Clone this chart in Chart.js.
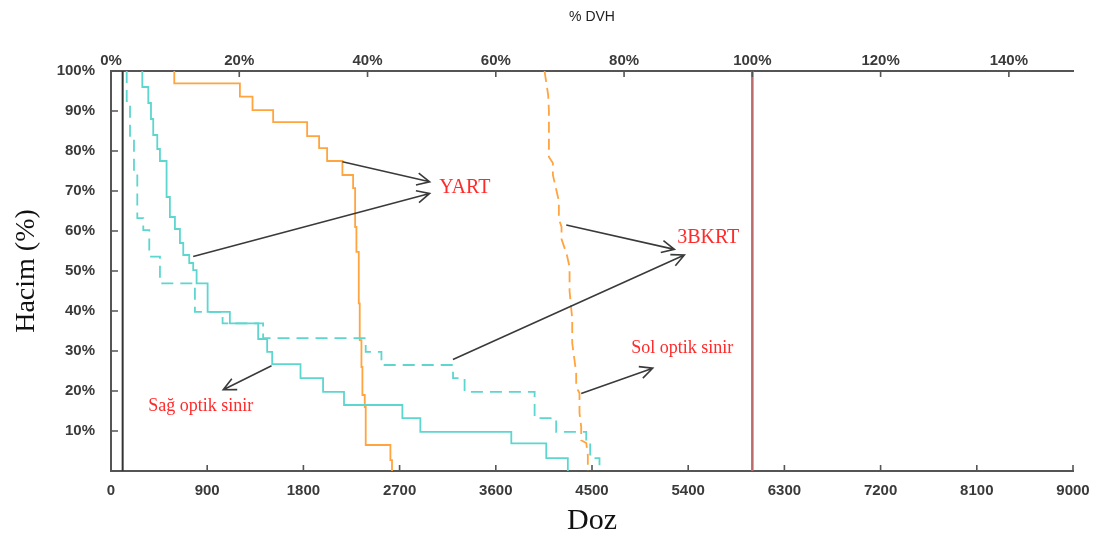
<!DOCTYPE html>
<html>
<head>
<meta charset="utf-8">
<script src="https://cdn.jsdelivr.net/npm/chart.js@4.4.1/dist/chart.umd.min.js"></script>
<style>
  body { margin: 0; background: #fff; }
  canvas { display: block; }
</style>
</head>
<body>
<canvas id="myChart" width="1103" height="545"></canvas>
<script>
// DVH values (dose in cGy / volume in %)
// steps: horizontal to the dose, then down to the volume
const solYartDoz   = [592, 592, 1206, 1324, 1517, 1835, 1947, 2022, 2165, 2265, 2284, 2296, 2318, 2327, 2343, 2352, 2374, 2383, 2614, 2629];
const solYartHacim = [100, 96.9, 93.6, 90.2, 87.2, 83.7, 80.7, 77.5, 74.0, 70.7, 61.0, 54.8, 41.9, 32.7, 26.0, 19.0, 16.0, 6.5, 2.7, 0];

const sagYartDoz   = [293, 293, 349, 374, 395, 433, 458, 520, 551, 598, 645, 676, 732, 769, 801, 904, 1112, 1377, 1461, 1508, 1773, 1984, 2180, 2726, 2894, 3745, 4072, 4274];
const sagYartHacim = [100, 96, 92, 88, 84, 80.5, 77.5, 68.5, 63.5, 60.5, 57, 54, 52, 50.2, 46.9, 39.8, 36.9, 33.0, 29.8, 26.7, 23.2, 19.8, 16.5, 13.2, 9.8, 6.9, 3.2, 0];

const sag3bkrtDoz   = [147, 147, 178, 215, 246, 302, 358, 458, 785, 1044, 1423, 2383, 2530, 3200, 3308, 3963, 4165, 4446, 4483, 4570];
const sag3bkrtHacim = [100, 92.5, 83.5, 74.5, 63.2, 60.2, 53.6, 46.9, 39.8, 36.9, 33.2, 29.8, 26.5, 23.2, 19.8, 13.2, 9.8, 6.9, 3.2, 0];

const sol3bkrtDoz   = [4056, 4090, 4097, 4097, 4134, 4134, 4190, 4190, 4215, 4215, 4265, 4290, 4290, 4315, 4315, 4352, 4352, 4383, 4383, 4399, 4399, 4446, 4461, 4461];
const sol3bkrtHacim = [100, 94, 90, 78.5, 77, 74, 67.5, 63, 61, 58, 54, 51, 45, 38, 32, 24.5, 21, 19.5, 14.5, 11, 7.7, 7, 4, 0];

const blackLineDoz = [109, 109];
const refLineDoz = [6000, 6000];   // 100% prescription
const fullHacim = [0, 100];

// axis ticks
const dozTicks = [0, 900, 1800, 2700, 3600, 4500, 5400, 6300, 7200, 8100, 9000];
const dvhTicks = [0, 20, 40, 60, 80, 100, 120, 140];
const hacimTicks = [10, 20, 30, 40, 50, 60, 70, 80, 90, 100];

// annotations
const noteTexts = ['YART', '3BKRT', 'Sol optik sinir', 'Sağ optik sinir'];
const noteDoz   = [3072, 5297, 4867, 348];
const noteHacim = [70.8, 58.2, 30.7, 16.1];
const arrowFromDoz   = [2165, 769, 4259, 3199, 4399, 1502];
const arrowFromHacim = [77.3, 53.6, 61.5, 27.9, 19.4, 26.3];
const arrowToDoz     = [2981, 2981, 5271, 5364, 5068, 1050];
const arrowToHacim   = [72.3, 69.4, 55.4, 54.0, 25.7, 20.3];

const toPts = (xs, ys) => xs.map((x, i) => ({x: x, y: ys[i]}));

const ORANGE = '#ffa43f';
const CYAN = '#5dd6cf';

const inwardTicks = {
  id: 'inwardTicks',
  afterDatasetsDraw(chart) {
    const ctx = chart.ctx, a = chart.chartArea;
    const sx = chart.scales.x, st = chart.scales.x2, sy = chart.scales.y;
    ctx.save();
    ctx.strokeStyle = '#555';
    ctx.lineWidth = 1.6;
    ctx.beginPath();
    dozTicks.forEach(v => { if (v === 0) return; const p = sx.getPixelForValue(v); ctx.moveTo(p, a.bottom); ctx.lineTo(p, a.bottom - 6); });
    dvhTicks.forEach(v => { if (v === 0) return; const p = st.getPixelForValue(v); ctx.moveTo(p, a.top); ctx.lineTo(p, a.top + 6); });
    hacimTicks.forEach(v => { if (v === 100) return; const p = sy.getPixelForValue(v); ctx.moveTo(a.left, p); ctx.lineTo(a.left + 7, p); });
    ctx.stroke();
    ctx.restore();
  }
};

const notes = {
  id: 'notes',
  afterDatasetsDraw(chart) {
    const ctx = chart.ctx;
    const sx = chart.scales.x, sy = chart.scales.y;
    ctx.save();
    ctx.strokeStyle = '#3a3a3a';
    ctx.lineWidth = 1.6;
    arrowFromDoz.forEach((d, i) => {
      const x1 = sx.getPixelForValue(d), y1 = sy.getPixelForValue(arrowFromHacim[i]);
      const x2 = sx.getPixelForValue(arrowToDoz[i]), y2 = sy.getPixelForValue(arrowToHacim[i]);
      const ang = Math.atan2(y2 - y1, x2 - x1);
      ctx.beginPath();
      ctx.moveTo(x1, y1); ctx.lineTo(x2, y2);
      ctx.moveTo(x2 - 14 * Math.cos(ang - 0.45), y2 - 14 * Math.sin(ang - 0.45));
      ctx.lineTo(x2, y2);
      ctx.lineTo(x2 - 14 * Math.cos(ang + 0.45), y2 - 14 * Math.sin(ang + 0.45));
      ctx.stroke();
    });
    ctx.fillStyle = '#ff2a2a';
    ctx.textAlign = 'left';
    ctx.textBaseline = 'middle';
    noteTexts.forEach((t, i) => {
      ctx.font = (i < 2 ? '20px' : '18px') + ' "Liberation Serif", serif';
      ctx.fillText(t, sx.getPixelForValue(noteDoz[i]), sy.getPixelForValue(noteHacim[i]));
    });
    ctx.restore();
  }
};

const tickFont = { family: '"Liberation Sans", Arial, sans-serif', size: 15, weight: 'bold' };

new Chart(document.getElementById('myChart'), {
  type: 'scatter',
  data: {
    datasets: [
      { data: toPts(blackLineDoz, fullHacim), borderColor: '#333', borderWidth: 2 },
      { data: toPts(refLineDoz, fullHacim), borderColor: '#b96b6b', borderWidth: 2.5 },
      { data: toPts(sol3bkrtDoz, sol3bkrtHacim), borderColor: ORANGE, borderWidth: 1.8, borderDash: [11, 6] },
      { data: toPts(sag3bkrtDoz, sag3bkrtHacim), borderColor: CYAN, borderWidth: 1.8, borderDash: [12, 7], stepped: 'before' },
      { data: toPts(sagYartDoz, sagYartHacim), borderColor: CYAN, borderWidth: 1.8, stepped: 'before' },
      { data: toPts(solYartDoz, solYartHacim), borderColor: ORANGE, borderWidth: 1.8, stepped: 'before' }
    ]
  },
  options: {
    responsive: false,
    animation: false,
    showLine: true,
    elements: { point: { radius: 0 } },
    layout: { padding: { left: 10, right: 30, top: 4, bottom: 0 } },
    plugins: { legend: { display: false }, tooltip: { enabled: false } },
    scales: {
      x: {
        type: 'linear', position: 'bottom', min: 0, max: 9000,
        afterFit: s => { s.height = 74; },
        afterBuildTicks: s => { s.ticks = dozTicks.map(v => ({value: v})); },
        grid: { display: false, drawTicks: false },
        border: { display: true, color: '#555', width: 2 },
        ticks: { font: tickFont, color: '#3a3a3a', padding: 11, maxRotation: 0, autoSkip: false, callback: v => String(v) },
        title: { display: true, text: 'Doz', color: '#111', font: { family: '"Liberation Serif", serif', size: 30 }, padding: { top: 0, bottom: 6 } }
      },
      x2: {
        type: 'linear', position: 'top', min: 0, max: 150,
        afterFit: s => { s.height = 67; },
        afterBuildTicks: s => { s.ticks = dvhTicks.map(v => ({value: v})); },
        grid: { display: false, drawTicks: false },
        border: { display: true, color: '#555', width: 2 },
        ticks: { font: tickFont, color: '#3a3a3a', padding: 1, maxRotation: 0, autoSkip: false, callback: v => v + '%' },
        title: { display: true, text: '% DVH', color: '#222', font: { family: '"Liberation Sans", Arial, sans-serif', size: 14 }, padding: { top: 5, bottom: 0 } }
      },
      y: {
        type: 'linear', position: 'left', min: 0, max: 100,
        afterFit: s => { s.width = 101; },
        afterBuildTicks: s => { s.ticks = hacimTicks.map(v => ({value: v})); },
        grid: { display: false, drawTicks: false },
        border: { display: true, color: '#555', width: 2 },
        ticks: { font: tickFont, color: '#3a3a3a', padding: 16, autoSkip: false, callback: v => v + '%' },
        title: { display: true, text: 'Hacim (%)', color: '#111', font: { family: '"Liberation Serif", serif', size: 28 }, padding: { top: 0, bottom: 0 } }
      }
    }
  },
  plugins: [inwardTicks, notes]
});
</script>
</body>
</html>
